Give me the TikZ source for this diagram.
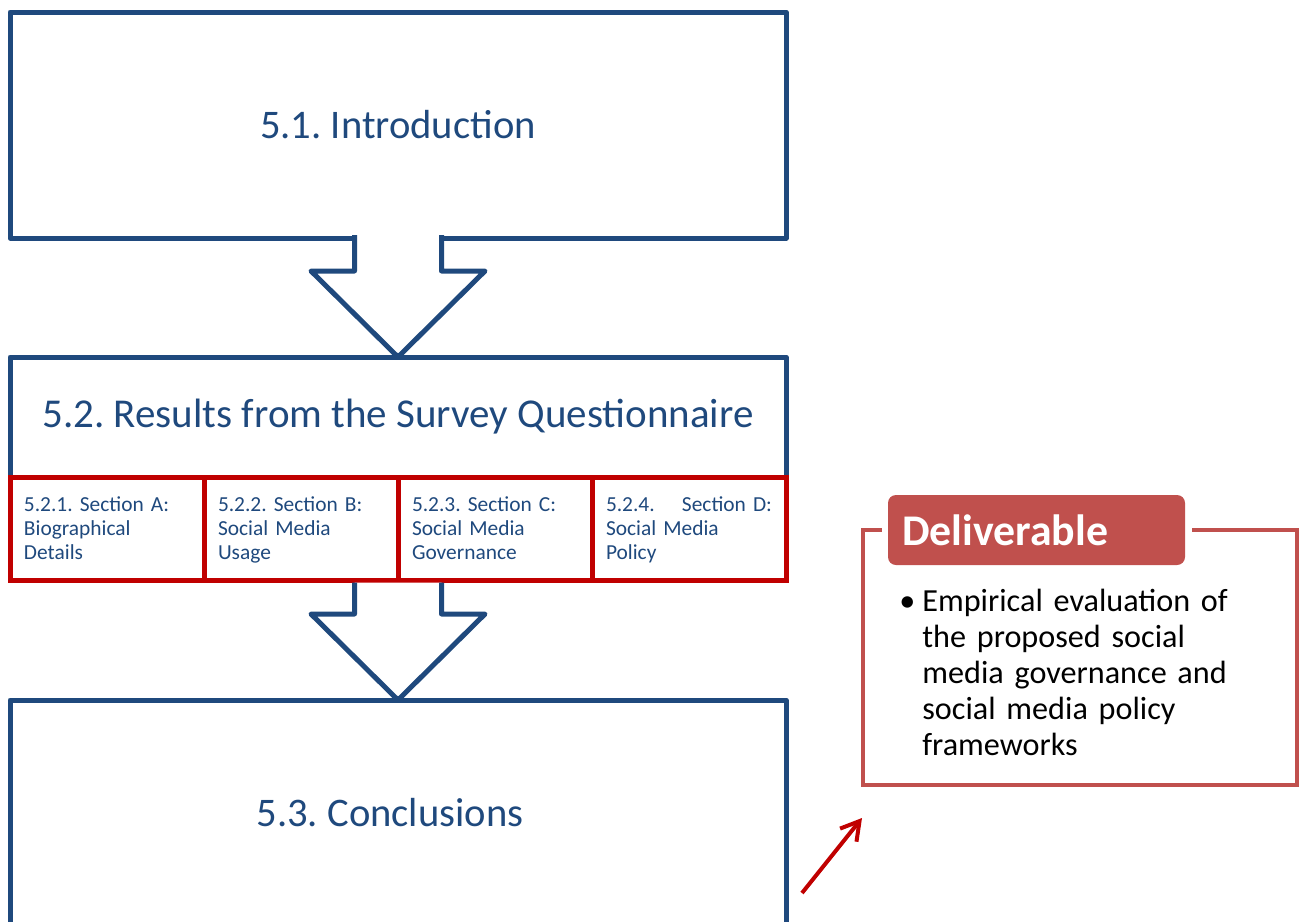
\documentclass[tikz,border=0pt]{standalone}
\usepackage{fontspec}
\setmainfont{Carlito}
\frenchspacing
\usetikzlibrary{positioning,calc,arrows.meta}

\definecolor{chapblue}{HTML}{1F497D}
\definecolor{secred}{HTML}{C00000}
\definecolor{delivred}{HTML}{C0504D}

\tikzset{
  chapline/.style={draw=chapblue,line width=2.5pt,line join=round},
  chapbox/.style={chapline,minimum width=388pt,minimum height=113pt,outer sep=0pt,
    text=chapblue,font=\fontsize{20.3}{24}\selectfont},
  secbox/.style={draw=secred,line width=2.5pt,minimum width=97pt,minimum height=51.5pt,
    outer sep=0pt,inner xsep=7pt,text width=83pt,align=left,text=chapblue,
    font=\fontsize{10.7}{12}\selectfont,
    execute at begin node=\rule{0pt}{10.8pt},execute at end node=\strut},
  delivline/.style={draw=delivred,line width=2pt},
}

% hollow block arrow: shaft starts at #1, tip at #2
\newcommand\blockarrow[2]{%
  \draw[chapline,fill=white] ($(#1)+(-43.5,0)$) |- ($(#2)+(-87,86)$) -- (#2)
    -- ($(#2)+(87,86)$) -| ($(#1)+(43.5,0)$);}

\begin{document}
\begin{tikzpicture}[x=0.5pt,y=0.5pt]
\useasboundingbox (0,0) rectangle (1303,-922);

% chapter outline
\node[chapbox] (intro) at (398,-125) {5.1. Introduction};
\node[chapbox,minimum height=60pt,font=\fontsize{20.5}{24}\selectfont] (res) at (398,-417)
  {5.2. Results from the Survey Questionnaire};
\node[chapbox] (conc) at (398,-813) {\hspace*{-8pt}5.3. Conclusions};

% sections of 5.2
\node[secbox,anchor=north west] (secA) at (res.south west) {5.2.1. Section A:\\ Biographical\\ Details};
\node[secbox,right=0pt of secA] (secB) {5.2.2. Section B:\\ Social Media\\ Usage};
\node[secbox,right=0pt of secB] (secC) {5.2.3. Section C:\\ Social Media\\ Governance};
\node[secbox,right=0pt of secC] (secD) {5.2.4.\hfill Section D:\\ Social Media\\ Policy};

\coordinate (introfoot) at ($(intro.south)+(0,3)$);
\coordinate (secfoot) at ($(secB.south east)+(0,-2.5)$);
\blockarrow{introfoot}{res.north}
\blockarrow{secfoot}{conc.north}

% deliverable frame
\node[minimum width=217pt,minimum height=127.5pt,outer sep=0pt] (deliv) at (1080,-657.5) {};
\node[fill=delivred,rounded corners=4pt,minimum width=148.5pt,minimum height=35pt,
  text width=134.5pt,inner xsep=7pt,align=left,text=white,
  font=\fontsize{21.9}{24}\selectfont\bfseries] (dtitle) at (1036.5,-530) {Deliverable};
\draw[delivline] ($(dtitle.west)+(-6,0)$) -- (deliv.north west) -- (deliv.south west)
  -- (deliv.south east) -- (deliv.north east) -- ($(dtitle.east)+(7,0)$);
\node[anchor=north west,inner sep=0pt,text width=170pt,align=left,
  font=\fontsize{16.1}{18}\selectfont] (dtext) at (899,-589)
  {\makebox[11.5pt][l]{\textbullet}Empirical evaluation of\\
   \hspace*{11.5pt}the proposed social\\
   \hspace*{11.5pt}media governance and\\
   \hspace*{11.5pt}social media policy\\
   \hspace*{11.5pt}frameworks};

% pointer to the deliverable
\coordinate (ptrtail) at (802,-893);
\coordinate (ptrhead) at ($(deliv.south west)+(-1,-33)$);
\draw[secred,line width=2pt,-{Straight Barb[length=9pt,width=10.5pt]}] (ptrtail) -- (ptrhead);
\end{tikzpicture}
\end{document}
